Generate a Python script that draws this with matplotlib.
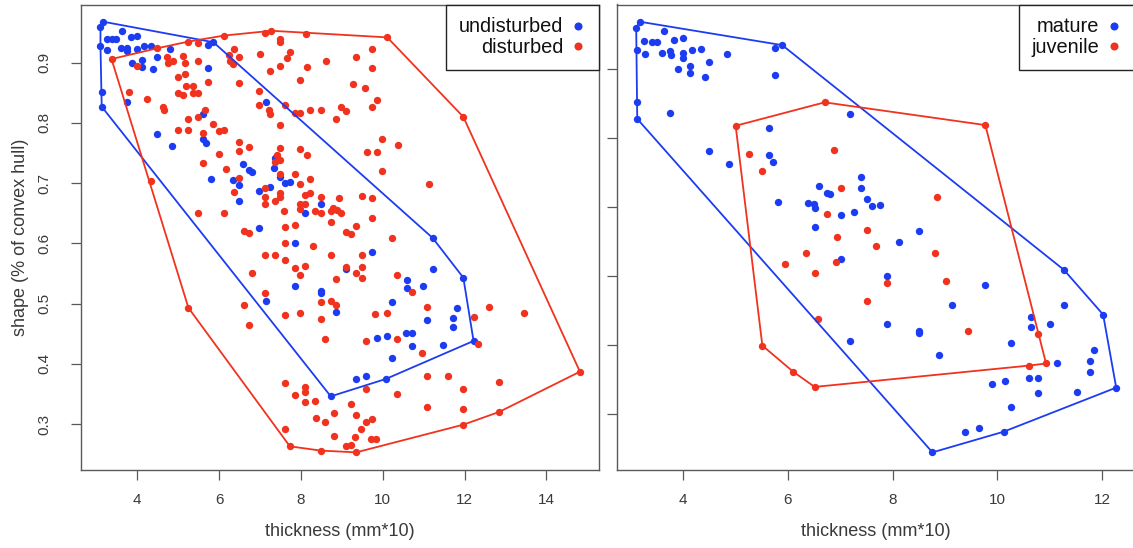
import numpy as np
import matplotlib
matplotlib.use("Agg")
import matplotlib.pyplot as plt
from matplotlib.lines import Line2D

plt.rcParams['font.family'] = ['Liberation Sans', 'DejaVu Sans']

# ---------------- left panel: undisturbed vs disturbed ----------------
undist_x = [3.17, 3.10, 3.62, 3.25, 3.39, 3.49, 3.84, 4.00, 3.10, 3.25, 3.59, 3.74, 3.76, 4.00,
            4.16, 4.33, 4.81, 4.49, 3.86, 4.12, 4.12, 4.39, 5.74, 5.86, 5.74, 3.13, 3.13, 3.76,
            7.15, 5.61, 4.49, 5.61, 5.69, 4.86, 6.59, 7.37,
            6.74, 6.81, 5.79, 6.35, 6.49, 7.35, 7.49, 7.61, 7.73, 6.98, 7.24, 6.49, 8.48, 8.11,
            6.98, 7.85, 7.85, 8.48, 8.48, 7.15, 8.86,
            9.73, 9.10, 11.22, 10.60, 10.60, 10.98, 10.22, 11.81, 11.22, 11.97,
            11.09, 11.71, 11.71, 9.85, 10.10, 10.57, 10.72, 10.72, 11.47, 10.22, 12.22, 9.35,
            9.59, 10.08, 8.73]
undist_y = [0.968, 0.960, 0.953, 0.940, 0.939, 0.939, 0.942, 0.945, 0.928, 0.921, 0.924, 0.925,
            0.920, 0.923, 0.927, 0.928, 0.922, 0.909, 0.900, 0.904, 0.893, 0.889, 0.930, 0.934,
            0.891, 0.852, 0.827, 0.835, 0.834, 0.815, 0.781, 0.774, 0.766, 0.762, 0.731, 0.742,
            0.722, 0.719, 0.707, 0.705, 0.697, 0.725, 0.710, 0.700, 0.702, 0.687, 0.693, 0.670,
            0.665, 0.650, 0.625, 0.600, 0.530, 0.521, 0.517, 0.505, 0.486,
            0.586, 0.558, 0.558, 0.540, 0.526, 0.530, 0.503, 0.493, 0.609, 0.543,
            0.472, 0.476, 0.461, 0.443, 0.447, 0.452, 0.452, 0.430, 0.431, 0.410, 0.438, 0.374,
            0.379, 0.375, 0.346]

dist_x = [3.37, 4.49, 4.00, 5.25, 5.49, 6.12, 7.12, 7.28, 8.12, 7.49, 7.49, 6.36, 6.49, 6.25,
          6.27, 6.33, 7.00, 7.73, 7.65, 7.49, 8.14, 8.61, 7.24, 4.73, 4.88, 4.76, 5.12, 5.17,
          5.49, 4.99, 5.17, 5.74, 6.49, 5.19, 5.37, 4.99, 5.12, 5.37, 5.49, 3.80, 4.24, 6.98,
          7.98, 6.98, 7.23, 7.24, 7.61, 7.85, 7.98, 8.22, 8.48, 8.86, 4.62, 4.66, 5.65, 5.23,
          5.49, 5.86, 4.99, 5.23, 6.00, 6.12, 5.61, 7.49, 6.49, 6.49, 6.74, 7.49, 7.98, 8.14,
          6.00, 5.61, 7.41, 7.49, 7.37,
          10.11, 9.73, 9.35, 9.73, 9.28, 9.57, 9.85, 9.73, 8.98, 9.10, 9.97, 10.38, 9.61, 9.85,
          11.97,
          4.33, 6.18, 6.49, 7.49, 7.85, 8.22, 7.98, 7.12, 6.36, 7.49, 7.49, 7.12, 7.12, 7.37,
          8.11, 8.22, 8.48, 8.94, 7.98, 8.11, 7.98, 8.34, 8.48, 8.73, 8.79, 8.87, 8.98, 7.59,
          5.49, 6.12, 8.73, 7.85, 7.61, 6.61, 6.74, 7.61, 8.30, 7.11, 7.37, 7.61, 8.73, 7.85,
          8.11, 7.98, 6.80, 8.86, 7.11, 8.48, 8.73, 8.86, 5.25, 6.61, 7.61, 7.98,
          9.97, 11.13, 9.49, 9.73, 9.73, 9.35, 9.10, 9.22, 10.22, 9.49, 9.10, 9.49, 9.35, 9.49,
          10.34, 10.72, 9.81, 10.10, 11.09, 12.60, 13.46,
          6.74, 8.48, 8.60, 9.59, 10.34, 10.95, 12.22, 12.34, 14.82, 7.61, 7.85, 8.11, 8.11,
          8.11, 8.35, 9.59, 10.34, 11.09, 11.59, 11.97, 12.84, 9.22, 8.81, 9.35, 8.37, 8.60,
          9.59, 9.73, 9.47, 7.61, 8.81, 9.31, 9.71, 9.84, 9.10, 9.22, 11.09, 11.97, 12.84,
          11.97, 7.73, 8.48, 9.35]
dist_y = [0.906, 0.924, 0.895, 0.935, 0.933, 0.945, 0.949, 0.953, 0.948, 0.940, 0.934, 0.923,
          0.909, 0.912, 0.903, 0.897, 0.915, 0.917, 0.907, 0.894, 0.893, 0.903, 0.887, 0.909,
          0.903, 0.899, 0.911, 0.900, 0.903, 0.877, 0.881, 0.868, 0.866, 0.862, 0.862, 0.849,
          0.846, 0.849, 0.849, 0.852, 0.839, 0.853, 0.872, 0.829, 0.822, 0.814, 0.830, 0.816,
          0.817, 0.821, 0.821, 0.806, 0.826, 0.821, 0.822, 0.806, 0.810, 0.798, 0.789, 0.789,
          0.786, 0.788, 0.784, 0.796, 0.768, 0.754, 0.760, 0.759, 0.756, 0.746, 0.749, 0.734,
          0.747, 0.738, 0.735,
          0.942, 0.922, 0.909, 0.891, 0.865, 0.858, 0.838, 0.826, 0.827, 0.820, 0.774, 0.764,
          0.752, 0.752, 0.810,
          0.704, 0.723, 0.709, 0.715, 0.715, 0.707, 0.698, 0.692, 0.686, 0.683, 0.677, 0.677,
          0.666, 0.671, 0.681, 0.684, 0.677, 0.676, 0.666, 0.666, 0.657, 0.654, 0.651, 0.654,
          0.658, 0.655, 0.650, 0.654, 0.650, 0.651, 0.635, 0.631, 0.627, 0.620, 0.617, 0.601,
          0.596, 0.580, 0.580, 0.573, 0.581, 0.559, 0.563, 0.548, 0.550, 0.541, 0.517, 0.502,
          0.504, 0.497, 0.493, 0.497, 0.481, 0.484,
          0.720, 0.699, 0.679, 0.676, 0.642, 0.629, 0.619, 0.616, 0.609, 0.580, 0.561, 0.560,
          0.551, 0.542, 0.548, 0.520, 0.483, 0.485, 0.495, 0.494, 0.484,
          0.464, 0.474, 0.441, 0.438, 0.441, 0.418, 0.477, 0.433, 0.387, 0.368, 0.349, 0.361,
          0.353, 0.337, 0.339, 0.359, 0.350, 0.379, 0.379, 0.358, 0.370, 0.333, 0.319, 0.315,
          0.310, 0.303, 0.304, 0.309, 0.292, 0.292, 0.281, 0.279, 0.276, 0.276, 0.263, 0.265,
          0.329, 0.325, 0.320, 0.299, 0.263, 0.256, 0.253]

# ---------------- right panel: mature vs juvenile ----------------
mature_x = [3.17, 3.10, 3.63, 3.25, 3.40, 3.50, 3.83, 4.00, 3.12, 3.26, 3.60, 3.75, 3.76, 4.00,
            4.00, 4.17, 4.33, 4.84, 4.50, 3.89, 4.13, 4.13, 4.41, 5.75, 5.89, 5.75, 3.12, 3.12,
            3.75, 7.18, 5.64, 4.50, 4.87, 5.64, 5.71, 7.39, 6.60, 6.75, 6.81, 7.39, 7.51, 7.60,
            5.81, 6.39, 6.50, 6.51, 7.01, 7.27, 6.51,
            8.51, 7.76, 7.01, 7.18,
            8.13, 7.89, 9.77, 9.14, 7.89, 8.51, 8.51, 8.89, 10.26, 10.64, 10.64, 11.01, 11.27,
            11.27, 12.02, 12.27, 10.12, 8.76, 11.85, 11.77, 11.77, 11.14, 9.89, 10.14, 10.61,
            10.77, 10.77, 11.52, 10.26, 9.39, 9.64]
mature_y = [0.969, 0.960, 0.955, 0.941, 0.940, 0.940, 0.942, 0.946, 0.928, 0.922, 0.924, 0.926,
            0.920, 0.923, 0.917, 0.928, 0.930, 0.922, 0.910, 0.901, 0.905, 0.894, 0.889, 0.931,
            0.935, 0.891, 0.853, 0.828, 0.836, 0.835, 0.815, 0.782, 0.762, 0.776, 0.766, 0.743,
            0.730, 0.721, 0.719, 0.727, 0.712, 0.701, 0.707, 0.706, 0.704, 0.698, 0.688, 0.693,
            0.671,
            0.665, 0.703, 0.625, 0.505,
            0.650, 0.600, 0.587, 0.558, 0.531, 0.520, 0.517, 0.486, 0.503, 0.540, 0.526, 0.530,
            0.558, 0.609, 0.544, 0.438, 0.374, 0.344, 0.493, 0.476, 0.461, 0.473, 0.443, 0.448,
            0.452, 0.452, 0.430, 0.431, 0.410, 0.373, 0.379]

juv_x = [6.70, 5.00, 5.25, 5.51, 6.88, 7.01, 6.75, 7.51, 9.77, 8.84, 6.93, 6.34, 5.94, 6.91,
         6.51, 7.51, 6.58, 5.51, 6.10, 6.51, 7.68, 8.81, 7.89, 9.02, 9.43, 10.77, 10.93, 10.61]
juv_y = [0.852, 0.818, 0.777, 0.753, 0.783, 0.727, 0.690, 0.667, 0.819, 0.714, 0.657, 0.634,
         0.617, 0.621, 0.605, 0.564, 0.538, 0.499, 0.461, 0.439, 0.643, 0.634, 0.590, 0.593,
         0.520, 0.516, 0.473, 0.470]

x_ticks_left = [4, 6, 8, 10, 12, 14]
y_ticks_left = [0.3, 0.4, 0.5, 0.6, 0.7, 0.8, 0.9]
x_ticks_right = [4, 6, 8, 10, 12]
y_ticks_right = [0.4, 0.5, 0.6, 0.7, 0.8, 0.9]

BLUE = '#1c3cf2'
RED = '#f0321e'
AXC = '#5a5a5a'
TXC = '#3a3a3a'


def convex_hull(xs, ys):
    pts = sorted(set(zip(xs, ys)))
    def cross(o, a, b):
        return (a[0]-o[0])*(b[1]-o[1]) - (a[1]-o[1])*(b[0]-o[0])
    lower, upper = [], []
    for p in pts:
        while len(lower) >= 2 and cross(lower[-2], lower[-1], p) <= 0:
            lower.pop()
        lower.append(p)
    for p in reversed(pts):
        while len(upper) >= 2 and cross(upper[-2], upper[-1], p) <= 0:
            upper.pop()
        upper.append(p)
    h = lower[:-1] + upper[:-1]
    h.append(h[0])
    return [p[0] for p in h], [p[1] for p in h]


def rrange(v):
    lo, hi = min(v), max(v)
    pad = 0.04 * (hi - lo)
    return lo - pad, hi + pad


W, H = 1133, 548
fig = plt.figure(figsize=(W/100, H/100), dpi=100)
bottom = (H - 469.6) / H
height = (469.6 - 4.5) / H
ax1 = fig.add_axes([81.3/W, bottom, 517.8/W, height])
ax2 = fig.add_axes([617.0/W, bottom, 518.4/W, height])

MS = 5.3


def style(ax, xt, yt, ylabels=True):
    ax.set_xticks(xt)
    ax.set_yticks(yt)
    ax.set_xticklabels([str(t) for t in xt])
    if ylabels:
        ax.set_yticklabels([f"{t:.1f}" for t in yt], rotation=90, va='center')
    else:
        ax.set_yticklabels([])
    for s in ax.spines.values():
        s.set_color(AXC)
        s.set_linewidth(1.0)
    ax.tick_params(axis='both', direction='out', length=7.5, width=0.9, color=AXC,
                   labelsize=11, labelcolor=TXC)
    ax.tick_params(axis='x', pad=9)
    ax.tick_params(axis='y', pad=14)
    ax.set_xlabel('thickness (mm*10)', fontsize=13, color=TXC, va='center')
    ax.xaxis.set_label_coords(0.5, -0.133)


# left panel
ax1.plot(undist_x, undist_y, 'o', ms=MS, mew=0, color=BLUE, zorder=2)
ax1.plot(dist_x, dist_y, 'o', ms=MS, mew=0, color=RED, zorder=3)
hx, hy = convex_hull(undist_x, undist_y)
ax1.plot(hx, hy, '-', color=BLUE, lw=1.3, zorder=4)
hx, hy = convex_hull(dist_x, dist_y)
ax1.plot(hx, hy, '-', color=RED, lw=1.3, zorder=4)
ax1.set_xlim(*rrange(undist_x + dist_x))
ax1.set_ylim(*rrange(undist_y + dist_y))
style(ax1, x_ticks_left, y_ticks_left)
ax1.set_ylabel('shape (% of convex hull)', fontsize=13, color=TXC, va='center')
ax1.yaxis.set_label_coords(-0.118, 0.5)

# right panel
ax2.plot(mature_x, mature_y, 'o', ms=MS, mew=0, color=BLUE, zorder=2)
ax2.plot(juv_x, juv_y, 'o', ms=MS, mew=0, color=RED, zorder=3)
hx, hy = convex_hull(mature_x, mature_y)
ax2.plot(hx, hy, '-', color=BLUE, lw=1.3, zorder=4)
hx, hy = convex_hull(juv_x, juv_y)
ax2.plot(hx, hy, '-', color=RED, lw=1.3, zorder=4)
ax2.set_xlim(*rrange(mature_x + juv_x))
ax2.set_ylim(*rrange(mature_y + juv_y))
style(ax2, x_ticks_right, y_ticks_right, ylabels=False)


def add_legend(ax, labels):
    handles = [Line2D([], [], ls='none', marker='o', ms=5.8, mew=0, color=c) for c in (BLUE, RED)]
    leg = ax.legend(handles, labels, loc='upper right', markerfirst=False, frameon=True,
                    fancybox=False, framealpha=1, edgecolor='#222222', borderaxespad=0,
                    handlelength=0.8, handletextpad=0.35, borderpad=0.65, labelspacing=0.08,
                    prop={'size': 14.4})
    leg.get_frame().set_linewidth(1.0)
    for t in leg.get_texts():
        t.set_color('#111111')
        t.set_ha('right')
    return leg


add_legend(ax1, ['undisturbed', 'disturbed'])
add_legend(ax2, ['mature', 'juvenile'])

fig.savefig('out.png', dpi=100)
